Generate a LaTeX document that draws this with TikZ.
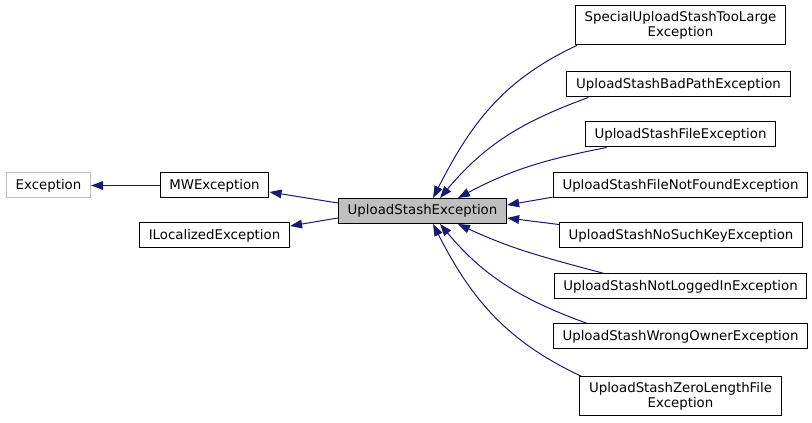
\documentclass[tikz,border=0pt]{standalone}
\usepackage{fontspec}
\setmainfont{DejaVu Sans}
\usepackage{tikz}
\usetikzlibrary{positioning,arrows.meta}
\definecolor{edgeblue}{HTML}{191970}
\definecolor{boxgray}{HTML}{BFBFBF}
\tikzset{
    cls/.style={
        rectangle,
        draw=black,
        line width=0.75pt,
        fill=white,
        align=center,
        inner xsep=7pt,
        inner ysep=2pt,
        minimum height=18.75pt,
        font=\fontsize{10}{11.25}\selectfont
    },
    inherit/.style={
        draw=edgeblue,
        line width=0.75pt,
        -{Triangle[length=9pt,width=6.5pt]}
    }
}
\tikzstyle{extern} = [cls, draw=boxgray]
\tikzstyle{current} = [cls, fill=boxgray]

\begin{document}
\begin{tikzpicture}[x=0.75pt,y=0.75pt]
          \useasboundingbox (0,0) rectangle (812,423);
          % base classes
          \node (exc) [extern] at (48.5,237.5) {Exception};
          \node (mw) [cls] at (214.5,237.5) {MWException};
          \node (iloc) [cls] at (214.5,187.5) {ILocalizedException};
          \node (use) [current] at (422.5,212) {UploadStashException};
          % derived classes
          \node (tl) [cls, minimum height=29.25pt] at (680.5,397.5) {SpecialUploadStashTooLarge\\Exception};
          \node (bp) [cls] at (678.5,338.5) {UploadStashBadPathException};
          \node (fe) [cls] at (680.5,288.5) {UploadStashFileException};
          \node (fnf) [cls] at (680.5,237.5) {UploadStashFileNotFoundException};
          \node (nsk) [cls] at (681,187.5) {UploadStashNoSuchKeyException};
          \node (nli) [cls] at (680.5,136.5) {UploadStashNotLoggedInException};
          \node (wo) [cls] at (680.5,86.5) {UploadStashWrongOwnerException};
          \node (zl) [cls, minimum height=29.25pt] at (680.5,26.5) {UploadStashZeroLengthFile\\Exception};
          \draw [inherit] (mw) -- (exc);
          \draw [inherit] ([yshift=6pt]use.west) -- ([yshift=-4.9pt]mw.east);
          \draw [inherit] ([yshift=-5.25pt]use.west) -- ([yshift=7.1pt]iloc.east);
          \draw [inherit] ([xshift=1.5pt]tl.south west) to[out=205,in=63] ([xshift=7.9pt]use.north);
          \draw [inherit] ([xshift=16.5pt]bp.south west) to[out=200,in=50] ([xshift=13.1pt]use.north);
          \draw [inherit] ([xshift=16.5pt]fe.south west) to[out=191,in=28] ([xshift=26.6pt]use.north);
          \draw [inherit] ([yshift=1pt]fnf.south west) -- ([yshift=4.5pt]use.east);
          \draw [inherit] ([yshift=-1.5pt]nsk.north west) -- ([yshift=-5.25pt]use.east);
          \draw [inherit] ([xshift=38pt]nli.north west) to[out=165,in=-25] ([xshift=26.6pt]use.south);
          \draw [inherit] ([xshift=26pt]wo.north west) to[out=160,in=-50] ([xshift=13.1pt]use.south);
          \draw [inherit] ([xshift=2pt]zl.north west) to[out=155,in=-63] ([xshift=7.9pt]use.south);
\end{tikzpicture}
\end{document}
